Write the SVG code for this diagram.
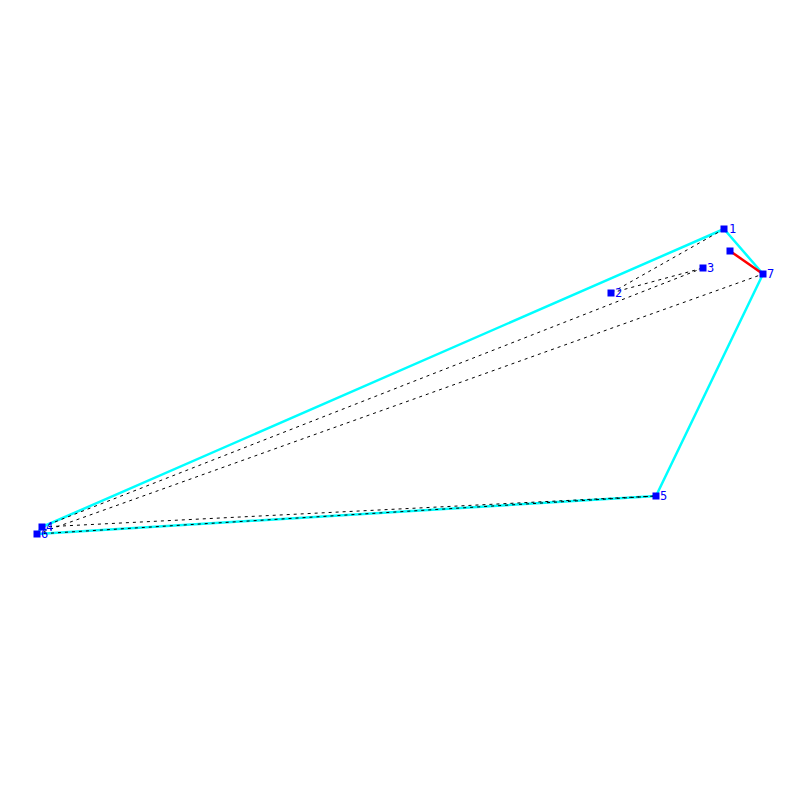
<svg xmlns="http://www.w3.org/2000/svg" width="800" height="800" viewBox="0 0 800 800">
<style>
.hull{stroke:#00ffff;stroke-width:2.5;fill:none;stroke-linecap:round}
.dash{stroke:#000;stroke-width:1;stroke-dasharray:3,4;fill:none}
.red{stroke:#ff0000;stroke-width:2.5}
.pt{fill:#0000ff}
.lbl{fill:#0000ff;font-family:"DejaVu Sans Mono","Liberation Mono",monospace;font-size:12px}
</style>
<rect width="800" height="800" fill="#fff"/>
<g id="connectors">
<line class="hull" x1="42" y1="527" x2="724" y2="229"/>
<line class="hull" x1="724" y1="229" x2="763" y2="274"/>
<line class="hull" x1="763" y1="274" x2="656" y2="496"/>
<line class="hull" x1="656" y1="496" x2="37" y2="534"/>
<line class="hull" x1="37" y1="534" x2="42" y2="527"/>
<line class="dash" x1="724" y1="229" x2="611" y2="293"/>
<line class="dash" x1="611" y1="293" x2="703" y2="268"/>
<line class="dash" x1="42" y1="527" x2="703" y2="268"/>
<line class="dash" x1="37" y1="534" x2="763" y2="274"/>
<line class="dash" x1="42" y1="527" x2="656" y2="496"/>
<line class="dash" x1="37" y1="534" x2="656" y2="496"/>
<line class="red" x1="730" y1="251" x2="763" y2="274"/>
</g>
<g id="n8"><rect class="pt" x="726.5" y="247.5" width="7" height="7"/></g>
<g id="n1"><rect class="pt" x="720.5" y="225.5" width="7" height="7"/><text class="lbl" x="729" y="233">1</text></g>
<g id="n2"><rect class="pt" x="607.5" y="289.5" width="7" height="7"/><text class="lbl" x="615" y="297">2</text></g>
<g id="n3"><rect class="pt" x="699.5" y="264.5" width="7" height="7"/><text class="lbl" x="707" y="272">3</text></g>
<g id="n4"><rect class="pt" x="38.5" y="523.5" width="7" height="7"/><text class="lbl" x="46" y="531">4</text></g>
<g id="n5"><rect class="pt" x="652.5" y="492.5" width="7" height="7"/><text class="lbl" x="660" y="500">5</text></g>
<g id="n6"><rect class="pt" x="33.5" y="530.5" width="7" height="7"/><text class="lbl" x="41" y="538">6</text></g>
<g id="n7"><rect class="pt" x="759.5" y="270.5" width="7" height="7"/><text class="lbl" x="767" y="278">7</text></g>
</svg>
